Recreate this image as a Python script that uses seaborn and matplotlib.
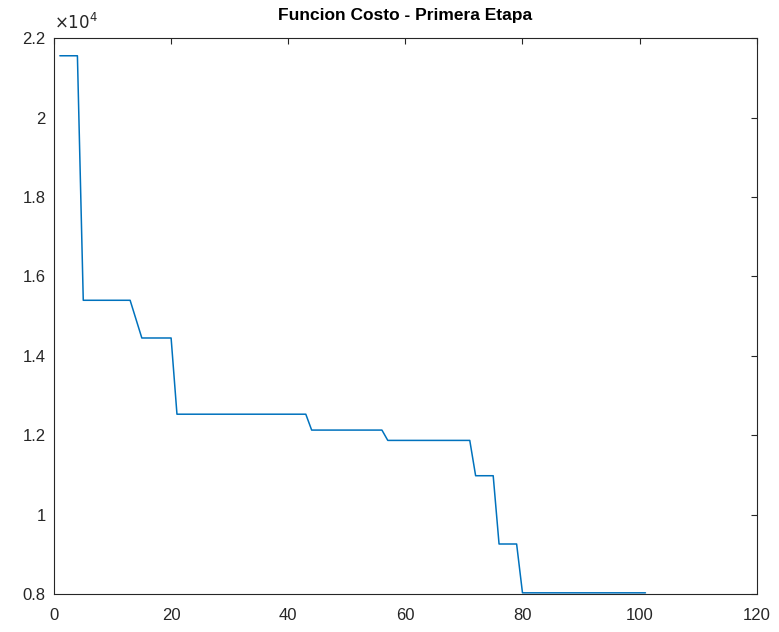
import seaborn as sns
import matplotlib.pyplot as plt
import pandas as pd
from matplotlib.ticker import FuncFormatter

# iteration where the cost changes (corners of the curve) and the cost there
iteracion = [1, 4, 5, 13, 15, 20, 21, 43, 44, 56, 57, 71, 72, 75, 76, 79, 80, 101]
costo = [21560, 21560, 15400, 15400, 14450, 14450, 12530, 12530, 12130, 12130,
         11870, 11870, 10980, 10980, 9260, 9260, 8030, 8030]

x_ticks = [0, 20, 40, 60, 80, 100, 120]
y_ticks = [8000, 10000, 12000, 14000, 16000, 18000, 20000, 22000]

df = pd.DataFrame({"iteracion": iteracion, "costo": costo})

sns.set_style("white")
plt.rcParams['font.family'] = ['Liberation Sans', 'DejaVu Sans']

fig = plt.figure(figsize=(7.79, 6.32), dpi=100)
ax = fig.add_axes([0.0693, 0.0601, 0.9021, 0.8793])

sns.lineplot(x="iteracion", y="costo", data=df, ax=ax, color="#0072BD", linewidth=1.1)

ax.set_xlim(0, 120)
ax.set_ylim(8000, 22000)
ax.set_xticks(x_ticks)
ax.set_yticks(y_ticks)
ax.yaxis.set_major_formatter(FuncFormatter(lambda v, p: f"{v / 1e4:g}"))
ax.set_xlabel("")
ax.set_ylabel("")

grey = "#262626"
for s in ax.spines.values():
    s.set_visible(True)
    s.set_color(grey)
    s.set_linewidth(0.8)
ax.tick_params(direction="in", length=4, width=0.8, color=grey, labelcolor=grey,
               labelsize=12, top=True, right=True, pad=6)
ax.tick_params(axis="x", pad=10)

ax.text(0.0, 1.012, r"$\times10^{4}$", transform=ax.transAxes, fontsize=12,
        color=grey, ha="left", va="bottom")
ax.set_title("Funcion Costo - Primera Etapa", fontsize=12.5, fontweight="bold",
             color="black", pad=13)

fig.savefig("out.png", dpi=100)
